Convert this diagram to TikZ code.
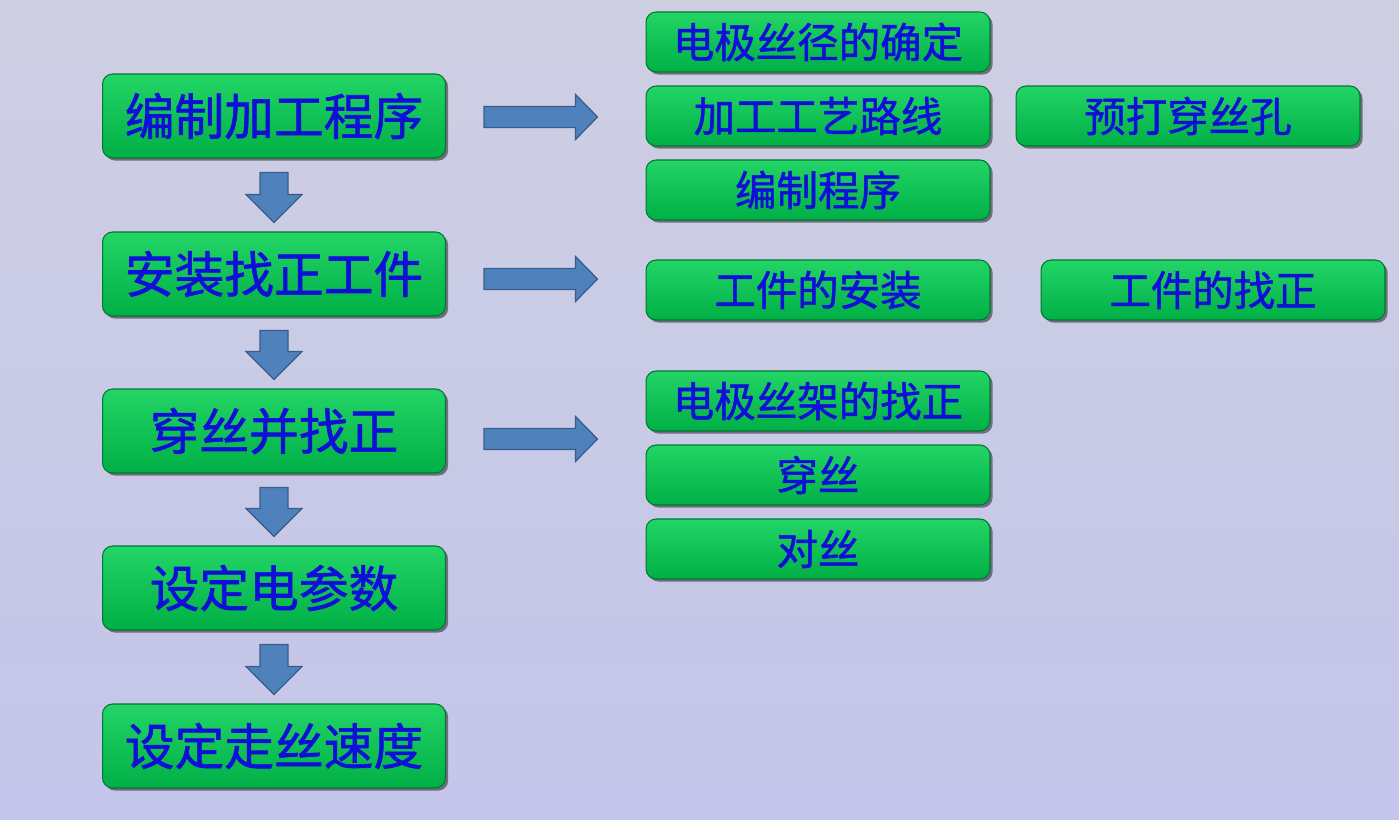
\documentclass[tikz,border=0pt]{standalone}
\usepackage{fontspec}
\usetikzlibrary{calc,shadows}
\newfontfamily\cjk[FakeBold=1.2]{Noto Sans CJK SC}
\definecolor{fondhaut}{RGB}{206,207,226}
\definecolor{fondbas}{RGB}{196,197,234}
\definecolor{vert}{RGB}{0,192,80}
\definecolor{vertclair}{RGB}{35,212,102}
\definecolor{vertfonce}{RGB}{0,176,70}
\definecolor{bord}{RGB}{0,120,50}
\definecolor{bleutexte}{RGB}{15,15,215}
\definecolor{flechebleu}{RGB}{79,129,189}
\definecolor{flechebord}{RGB}{56,93,138}

\begin{document}
\begin{tikzpicture}[x=0.02cm,y=-0.02cm,
    boite/.style={rounded corners=0.2cm, draw=bord, line width=0.6pt,
      top color=vertclair, middle color=vert, bottom color=vertfonce,
      drop shadow={shadow xshift=1.5pt, shadow yshift=-1.5pt, fill=black, opacity=0.45},
      text=bleutexte, inner sep=0pt},
    etape/.style={boite, minimum width=6.86cm, minimum height=1.68cm,
      font=\cjk\fontsize{28.3}{30}\selectfont},
    sousetape/.style={boite, minimum width=6.88cm, minimum height=1.2cm,
      font=\cjk\fontsize{23.6}{26}\selectfont},
    fleche/.style={fill=flechebleu, draw=flechebord, line width=0.7pt, line join=miter}]
  % fond
  \fill[top color=fondhaut, bottom color=fondbas] (0,0) rectangle (1399,820);
  \useasboundingbox (0,0) rectangle (1399,820);
  % etapes principales
  \node[etape] (m1) at (274,116) {编制加工程序};
  \node[etape] (m2) at (274,274) {安装找正工件};
  \node[etape] (m3) at (274,431) {穿丝并找正};
  \node[etape] (m4) at (274,588) {设定电参数};
  \node[etape] (m5) at (274,746) {设定走丝速度};
  % details
  \node[sousetape] (a1) at (818,42) {电极丝径的确定};
  \node[sousetape] (a2) at (818,116) {加工工艺路线};
  \node[sousetape] (a3) at (818,190) {编制程序};
  \node[sousetape] (b1) at (1188,116) {预打穿丝孔};
  \node[sousetape] (a4) at (818,290) {工件的安装};
  \node[sousetape] (b2) at (1213,290) {工件的找正};
  \node[sousetape] (a5) at (818,401) {电极丝架的找正};
  \node[sousetape] (a6) at (818,475) {穿丝};
  \node[sousetape] (a7) at (818,549) {对丝};
  % fleches vers le bas
  \foreach \a/\b in {m1/m2,m2/m3,m3/m4,m4/m5}
    \draw[fleche] ($(\a.south)+(-14,14)$) -- ($(\a.south)+(14,14)$)
      -- ($(\b.north)+(14,-37)$) -- ($(\b.north)+(28,-37)$) -- ($(\b.north)+(0,-9)$)
      -- ($(\b.north)+(-28,-37)$) -- ($(\b.north)+(-14,-37)$) -- cycle;
  % fleches vers la droite
  \foreach \a/\b/\d in {m1/a2/1,m2/a4/5,m3/a5/8}{
    \coordinate (s) at ($(\a.east)+(38,\d)$);
    \coordinate (t) at (s -| \b.west);
    \draw[fleche] ($(s)+(0,-10.5)$) -- ($(t)+(-70,-10.5)$) -- ($(t)+(-70,-22.5)$)
      -- ($(t)+(-48,0)$) -- ($(t)+(-70,22.5)$) -- ($(t)+(-70,10.5)$)
      -- ($(s)+(0,10.5)$) -- cycle;
  }
\end{tikzpicture}
\end{document}
